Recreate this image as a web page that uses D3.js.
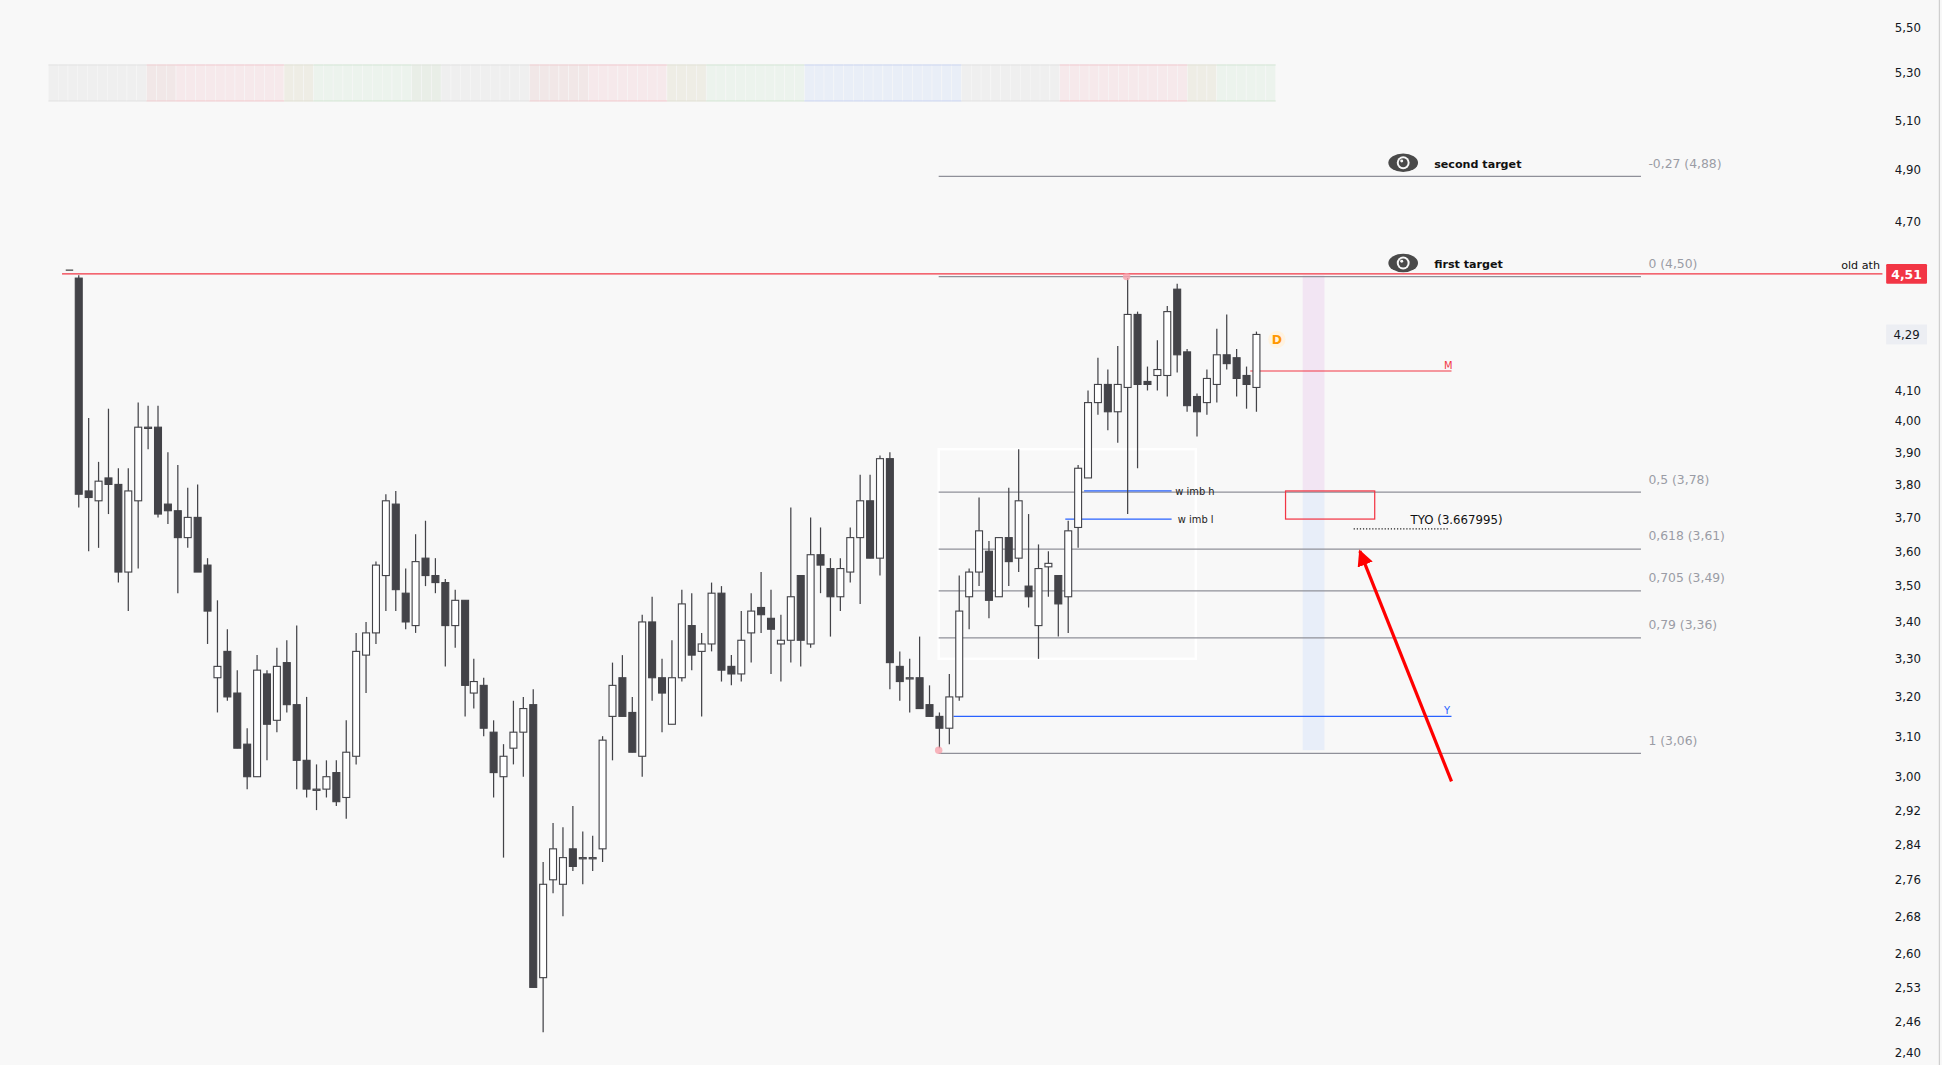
<!DOCTYPE html>
<html><head><meta charset="utf-8">
<script src="https://cdn.jsdelivr.net/npm/d3@7"></script>
<style>html,body{margin:0;padding:0;background:#f8f8f8;overflow:hidden}</style>
</head><body>
<svg id="c" width="1942" height="1065" viewBox="0 0 1568 860"></svg>
<script>
// ---- data ----
const opens  = [4.49,3.78,3.75,3.82,3.80,3.54,3.75,3.98,3.98,3.74,3.72,3.64,3.70,3.56,3.25,3.32,3.21,3.08,3.00,3.26,3.14,3.29,3.18,3.04,2.97,2.97,3.01,2.95,3.05,3.31,3.37,3.53,3.74,3.48,3.39,3.58,3.53,3.51,3.39,3.46,3.21,3.23,3.11,3.00,3.07,3.11,3.18,2.55,2.76,2.75,2.83,2.81,2.81,2.83,3.15,3.25,3.16,3.05,3.40,3.25,3.13,3.25,3.39,3.32,3.34,3.48,3.28,3.26,3.37,3.44,3.41,3.34,3.35,3.53,3.34,3.59,3.55,3.47,3.54,3.64,3.75,3.58,3.88,3.28,3.25,3.25,3.18,3.15,3.12,3.20,3.47,3.54,3.60,3.47,3.64,3.58,3.50,3.39,3.555,3.53,3.47,3.67,3.82,4.06,4.12,4.03,4.11,4.36,4.13,4.15,4.15,4.45,4.23,4.08,4.06,4.12,4.22,4.21,4.15,4.11];
const highs  = [4.50,4.01,3.87,4.04,3.85,3.85,4.06,4.05,4.05,3.90,3.86,3.79,3.80,3.58,3.46,3.38,3.27,3.12,3.31,3.27,3.33,3.35,3.39,3.20,3.03,3.04,3.04,3.14,3.37,3.40,3.57,3.77,3.78,3.55,3.65,3.69,3.58,3.52,3.49,3.46,3.30,3.25,3.14,3.08,3.19,3.20,3.22,2.80,2.89,2.88,2.93,2.87,2.86,3.10,3.29,3.31,3.20,3.42,3.47,3.30,3.35,3.49,3.48,3.37,3.51,3.50,3.31,3.43,3.48,3.54,3.49,3.42,3.73,3.53,3.70,3.67,3.58,3.58,3.67,3.83,3.83,3.89,3.90,3.32,3.30,3.36,3.23,3.16,3.26,3.53,3.55,3.76,3.63,3.64,3.79,3.91,3.71,3.62,3.60,3.53,3.69,3.86,4.10,4.21,4.17,4.25,4.49,4.37,4.18,4.27,4.39,4.47,4.24,4.09,4.17,4.31,4.36,4.24,4.18,4.30];
const lows   = [3.73,3.60,3.61,3.71,3.51,3.43,3.55,3.91,3.70,3.68,3.48,3.61,3.54,3.34,3.16,3.19,3.07,2.97,3.00,3.04,3.11,3.16,2.97,2.95,2.92,2.95,2.93,2.90,3.03,3.21,3.34,3.43,3.43,3.38,3.37,3.50,3.48,3.28,3.33,3.15,3.17,3.10,2.95,2.81,3.03,3.00,2.53,2.44,2.73,2.68,2.78,2.75,2.78,2.80,3.04,3.15,3.06,3.00,3.19,3.11,3.13,3.24,3.27,3.15,3.32,3.24,3.23,3.24,3.29,3.37,3.26,3.24,3.29,3.28,3.33,3.48,3.36,3.43,3.51,3.45,3.58,3.53,3.22,3.19,3.16,3.17,3.15,3.07,3.08,3.19,3.38,3.50,3.41,3.47,3.50,3.54,3.44,3.30,3.47,3.36,3.37,3.61,3.82,4.02,3.97,3.93,3.71,3.85,4.10,4.10,4.08,4.16,4.03,3.95,4.02,4.06,4.17,4.08,4.04,4.03];
const closes = [3.77,3.76,3.81,3.80,3.54,3.78,3.98,3.98,3.71,3.72,3.64,3.70,3.54,3.43,3.28,3.20,3.07,3.00,3.27,3.13,3.28,3.18,3.04,2.97,2.97,3.00,2.94,3.06,3.32,3.37,3.56,3.75,3.49,3.40,3.57,3.53,3.51,3.39,3.46,3.23,3.24,3.12,3.01,3.05,3.11,3.17,2.53,2.75,2.83,2.81,2.79,2.81,2.81,3.09,3.23,3.15,3.06,3.40,3.25,3.21,3.25,3.45,3.31,3.34,3.48,3.27,3.26,3.35,3.43,3.42,3.38,3.35,3.47,3.35,3.59,3.56,3.47,3.55,3.64,3.75,3.58,3.88,3.29,3.24,3.25,3.17,3.15,3.12,3.20,3.43,3.54,3.66,3.46,3.64,3.57,3.75,3.47,3.55,3.565,3.45,3.66,3.85,4.06,4.12,4.03,4.12,4.36,4.12,4.12,4.17,4.37,4.22,4.05,4.03,4.14,4.22,4.19,4.14,4.12,4.29];
const tickValues = [5.50,5.30,5.10,4.90,4.70,4.10,4.00,3.90,3.80,3.70,3.60,3.50,3.40,3.30,3.20,3.10,3.00,2.92,2.84,2.76,2.68,2.60,2.53,2.46,2.40];
const fibRatios = [-0.27,0,0.5,0.618,0.705,0.79,1];
const fibPrices = [4.88,4.50,3.78,3.61,3.49,3.36,3.06];
const stripCodes = "nnnnnnnnnnqqqppppppppppptttgggggggggghhhnnnnnnnnnqqqqqqppppppppttttggggggggggbbbbbbbbbbbbbbbbnnnnnnnnnnppppppppppppptttgggggg";
const athPrice = 4.51, lastPrice = 4.29;
const imbHigh = 3.78, imbLow = 3.695, tyoPrice = 3.667995, yLevel = 3.15, mLevel = 4.165;

// ---- scales ----
const svg = d3.select('#c');
const y = d3.scaleLog().domain([2.40,5.50]).range([850,22]);
const x = d3.scaleLinear().domain([0,opens.length-1]).range([63,1013.5]);
const fmt = v => v.toFixed(2).replace('.',',');
const font = "'DejaVu Sans', Verdana, sans-serif";

// strip
const stripCol = {n:'#efefef',q:'#f1e7e7',p:'#f6e9eb',t:'#eeede5',g:'#ecf3ed',h:'#e9eee7',b:'#e9eef7'};
const stripLine = {n:'#e3e3e3',q:'#efcdd0',p:'#f2c9ce',t:'#e2e2d6',g:'#d4e6d6',h:'#dfe5dc',b:'#cbd6f0'};
const sx = d3.scaleBand().domain(d3.range(stripCodes.length)).range([39,1030]);
svg.append('g').selectAll('rect').data(stripCodes.split('')).join('rect')
  .attr('x',(d,i)=>sx(i)).attr('y',52).attr('width',sx.bandwidth()).attr('height',30)
  .attr('fill',d=>stripCol[d]).attr('stroke','#f7f7f7').attr('stroke-width',0.4);
svg.append('g').selectAll('line').data(stripCodes.split('')).join('line')
  .attr('x1',(d,i)=>sx(i)).attr('x2',(d,i)=>sx(i)+sx.bandwidth()).attr('y1',52.5).attr('y2',52.5)
  .attr('stroke',d=>stripLine[d]).attr('stroke-width',0.8);
svg.append('g').selectAll('line').data(stripCodes.split('')).join('line')
  .attr('x1',(d,i)=>sx(i)).attr('x2',(d,i)=>sx(i)+sx.bandwidth()).attr('y1',81.5).attr('y2',81.5)
  .attr('stroke',d=>stripLine[d]).attr('stroke-width',0.8);

// vertical band
const bx0 = x(123.8), bx1 = x(126);
svg.append('rect').attr('x',bx0).attr('y',y(4.50)).attr('width',bx1-bx0).attr('height',y(imbHigh)-y(4.50)).attr('fill','#f2e5f3');
svg.append('rect').attr('x',bx0).attr('y',y(imbHigh)).attr('width',bx1-bx0).attr('height',y(3.065)-y(imbHigh)).attr('fill','#e8eef9');

// white box
svg.append('rect').attr('x',x(87)).attr('y',y(3.91)).attr('width',x(113)-x(87)).attr('height',y(3.30)-y(3.91))
  .attr('fill','none').attr('stroke','#ffffff').attr('stroke-width',2);

// fib lines
const fx0 = x(87), fx1 = 1325;
fibRatios.forEach((r,i)=>{
  svg.append('line').attr('x1',fx0).attr('x2',fx1).attr('y1',y(fibPrices[i])+1).attr('y2',y(fibPrices[i])+1)
    .attr('stroke','#8f9099').attr('stroke-width',1);
  svg.append('text').attr('x',1331).attr('y',y(fibPrices[i])-6).attr('font-family',font).attr('font-size',10)
    .attr('fill','#9a9ca5').text(`${String(r).replace('.',',')} (${fmt(fibPrices[i])})`);
});

// ath line
const athY = y(athPrice)+1;
svg.append('line').attr('x1',50).attr('x2',1520).attr('y1',athY).attr('y2',athY).attr('stroke','#f23645').attr('stroke-width',1);
svg.append('line').attr('x1',53).attr('x2',59).attr('y1',athY-3).attr('y2',athY-3).attr('stroke','#444').attr('stroke-width',1);
svg.append('text').attr('x',1518).attr('y',athY-4).attr('text-anchor','end').attr('font-family',font).attr('font-size',9).attr('fill','#111').text('old ath');

// Y and M lines
svg.append('line').attr('x1',x(88.5)).attr('x2',1172).attr('y1',y(yLevel)).attr('y2',y(yLevel)).attr('stroke','#2962ff').attr('stroke-width',1);
svg.append('text').attr('x',1166).attr('y',y(yLevel)-2).attr('font-family',font).attr('font-size',8).attr('fill','#2962ff').text('Y');
svg.append('line').attr('x1',x(118.5)).attr('x2',1172).attr('y1',y(mLevel)).attr('y2',y(mLevel)).attr('stroke','#f23645').attr('stroke-width',0.9);
svg.append('text').attr('x',1166).attr('y',y(mLevel)-2).attr('font-family',font).attr('font-size',8).attr('fill','#f23645').text('M');

// imbalance lines
svg.append('line').attr('x1',x(101.7)).attr('x2',946).attr('y1',y(imbHigh)).attr('y2',y(imbHigh)).attr('stroke','#2962ff').attr('stroke-width',1);
svg.append('text').attr('x',949).attr('y',y(imbHigh)+3).attr('font-family',font).attr('font-size',8).attr('fill','#222').text('w imb h');
svg.append('line').attr('x1',x(99.8)).attr('x2',946).attr('y1',y(imbLow)).attr('y2',y(imbLow)).attr('stroke','#2962ff').attr('stroke-width',1);
svg.append('text').attr('x',951).attr('y',y(imbLow)+3).attr('font-family',font).attr('font-size',8).attr('fill','#222').text('w imb l');

// red box + TYO
svg.append('rect').attr('x',1038).attr('y',y(imbHigh)).attr('width',72).attr('height',y(3.695)-y(imbHigh))
  .attr('fill','none').attr('stroke','#f23645').attr('stroke-width',1);
svg.append('line').attr('x1',1093).attr('x2',1170).attr('y1',y(tyoPrice)+0.5).attr('y2',y(tyoPrice)+0.5)
  .attr('stroke','#222').attr('stroke-width',1).attr('stroke-dasharray','1,1.5');
svg.append('text').attr('x',1139).attr('y',y(tyoPrice)-3).attr('font-family',font).attr('font-size',9.5).attr('fill','#111').text('TYO (3.667995)');

// candles
const g = svg.append('g');
const bw = 5.6;
opens.forEach((o,i)=>{
  const c = closes[i], up = c >= o, cx = Math.round(x(i))+0.5;
  g.append('line').attr('x1',cx).attr('x2',cx).attr('y1',y(highs[i])).attr('y2',y(lows[i])).attr('stroke','#434348').attr('stroke-width',1);
  const top = y(Math.max(o,c)), bot = y(Math.min(o,c));
  g.append('rect').attr('x',cx-bw/2).attr('y',top).attr('width',bw).attr('height',Math.max(bot-top,1))
    .attr('fill',up?'#ffffff':'#434348').attr('stroke','#434348').attr('stroke-width',0.9);
});

// pivot dots
svg.append('circle').attr('cx',x(106)).attr('cy',y(4.50)+1).attr('r',3).attr('fill','#f7a3ad').attr('opacity',0.8);
svg.append('circle').attr('cx',x(87)).attr('cy',y(3.065)).attr('r',3).attr('fill','#f7a3ad').attr('opacity',0.8);

// D label
svg.append('circle').attr('cx',1031).attr('cy',274).attr('r',7).attr('fill','#fff3e0');
svg.append('text').attr('x',1031).attr('y',278).attr('text-anchor','middle').attr('font-family',font).attr('font-size',10).attr('font-weight','bold').attr('fill','#ff9800').text('D');

// targets with eye icons
[[4.88,'second target'],[4.50,'first target']].forEach(([p,t])=>{
  const cy = y(p)-10;
  svg.append('ellipse').attr('cx',1133).attr('cy',cy).attr('rx',12).attr('ry',7.5).attr('fill','#4a4a4a');
  svg.append('circle').attr('cx',1133).attr('cy',cy).attr('r',5.2).attr('fill','#f8f8f8');
  svg.append('circle').attr('cx',1133).attr('cy',cy).attr('r',3.6).attr('fill','#4a4a4a');
  svg.append('circle').attr('cx',1131.8).attr('cy',cy-1.4).attr('r',1.2).attr('fill','#f8f8f8');
  svg.append('text').attr('x',1158).attr('y',cy+4).attr('font-family',font).attr('font-size',9).attr('font-weight','bold').attr('fill','#111').text(t);
});

// red arrow
svg.append('defs').append('marker').attr('id','ah').attr('viewBox','0 0 10 10').attr('refX',9).attr('refY',5)
  .attr('markerWidth',5).attr('markerHeight',5).attr('orient','auto')
  .append('path').attr('d','M0,0 L10,5 L0,10 z').attr('fill','#ff0000');
svg.append('line').attr('x1',1172).attr('y1',631).attr('x2',1098).attr('y2',445).attr('stroke','#ff0000').attr('stroke-width',2.6).attr('marker-end','url(#ah)');

// right axis
svg.append('line').attr('x1',1566).attr('x2',1566).attr('y1',0).attr('y2',860).attr('stroke','#cfcfcf');
const ax = svg.append('g').attr('transform','translate(1530,0)')
  .call(d3.axisRight(y).tickValues(tickValues).tickFormat(fmt).tickSize(0).tickPadding(0));
ax.select('.domain').remove();
ax.selectAll('text').attr('font-family',font).attr('font-size',9.5).attr('fill','#131722');
// price labels
svg.append('rect').attr('x',1523).attr('y',athY-8).attr('width',33).attr('height',16).attr('rx',1).attr('fill','#f23645');
svg.append('text').attr('x',1539.5).attr('y',athY+4).attr('text-anchor','middle').attr('font-family',font).attr('font-size',10).attr('font-weight','bold').attr('fill','#fff').text(fmt(athPrice));
svg.append('rect').attr('x',1523).attr('y',y(lastPrice)-8).attr('width',33).attr('height',16).attr('fill','#eceef3');
svg.append('text').attr('x',1539.5).attr('y',y(lastPrice)+4).attr('text-anchor','middle').attr('font-family',font).attr('font-size',9.5).attr('fill','#131722').text(fmt(lastPrice));
</script>
</body></html>
